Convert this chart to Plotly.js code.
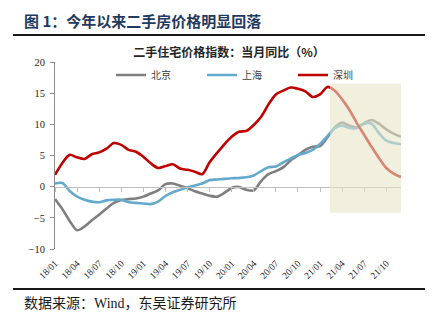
<!DOCTYPE html>
<html>
<head>
<meta charset="utf-8">
<script src="https://cdn.plot.ly/plotly-3.0.1.min.js"></script>
<style>html,body{margin:0;padding:0;background:#fff;}#chart{width:440px;height:322px;}</style>
</head>
<body>
<div id="chart"></div>
<script>
var months = ['18/01','18/02','18/03','18/04','18/05','18/06','18/07','18/08','18/09','18/10','18/11','18/12',
              '19/01','19/02','19/03','19/04','19/05','19/06','19/07','19/08','19/09','19/10','19/11','19/12',
              '20/01','20/02','20/03','20/04','20/05','20/06','20/07','20/08','20/09','20/10','20/11','20/12',
              '21/01','21/02','21/03','21/04','21/05','21/06','21/07','21/08','21/09','21/10','21/11','21/12'];
var tickLabels = ['18/01','18/04','18/07','18/10','19/01','19/04','19/07','19/10','20/01','20/04','20/07','20/10','21/01','21/04','21/07','21/10'];
var beijing = [-2.0,-3.6,-5.5,-7.0,-6.4,-5.4,-4.5,-3.5,-2.6,-2.15,-2.0,-1.9,
               -1.6,-1.1,-0.6,0.4,0.5,0.15,-0.25,-0.75,-1.1,-1.45,-1.6,-1.0,
               -0.2,-0.05,-0.5,-0.6,0.9,2.0,2.5,3.1,4.2,5.0,5.9,6.4,
               6.5,7.9,9.5,10.3,9.8,9.5,10.2,10.7,10.1,9.2,8.5,8.0];
var shanghai = [0.5,0.6,-0.7,-1.6,-2.1,-2.4,-2.5,-2.2,-2.1,-2.1,-2.5,-2.6,
                -2.7,-2.8,-2.4,-1.5,-0.9,-0.5,-0.1,0.2,0.5,1.05,1.15,1.25,
                1.35,1.4,1.5,1.8,2.5,3.1,3.25,3.9,4.5,5.1,5.4,5.9,
                6.85,8.1,9.4,9.8,9.4,9.4,10.1,10.1,8.6,7.4,7.0,6.8];
var shenzhen = [1.9,3.8,5.1,4.7,4.45,5.2,5.5,6.1,7.0,6.7,5.9,5.6,
                4.8,3.75,3.0,3.3,3.6,2.9,2.7,2.4,2.0,3.9,5.4,6.8,
                8.0,8.8,8.95,9.9,11.2,13.2,14.8,15.4,15.9,15.7,15.3,14.4,
                14.8,16.0,15.4,14.0,12.3,10.2,8.3,6.4,4.6,3.0,2.1,1.55];
var seriesNames = ['北京','上海','深圳'];
var seriesColors = ['#7F7F7F','#62A9CB','#C00000'];
var seriesData = [beijing, shanghai, shenzhen];
var shadeStart = 37.35, shadeEnd = 47, shadeLow = -4.2, shadeHigh = 16.5;

var serif = 'Liberation Serif, Times New Roman, Noto Sans CJK SC, serif';
var cjk = 'Noto Sans CJK SC, sans-serif';

var traces = seriesData.map(function(d, i){
  return {x: months, y: d, type: 'scatter', mode: 'lines', name: seriesNames[i],
          line: {color: seriesColors[i], width: 2.6, shape: 'spline', smoothing: 0.8},
          hoverinfo: 'skip'};
});
// zero-line axis carrier
traces.push({x: [0, 47], y: [0, 0], xaxis: 'x2', yaxis: 'y', mode: 'lines',
             line: {color: 'rgba(0,0,0,0)', width: 0}, showlegend: false, hoverinfo: 'skip'});

var tickIdx = tickLabels.map(function(t){ return months.indexOf(t); });

var layout = {
  width: 440, height: 322,
  margin: {l: 55, r: 39, t: 62, b: 73},
  paper_bgcolor: '#fff', plot_bgcolor: '#fff',
  showlegend: true,
  title: {text: '<b>二手住宅价格指数：当月同比（%）</b>', font: {family: cjk, size: 12, color: '#262626'},
          xref: 'paper', x: 0.503, xanchor: 'center', yref: 'container', y: 1 - 53/322, yanchor: 'middle'},
  legend: {orientation: 'h', xref: 'paper', yref: 'paper', x: (111 - 55)/346, y: (249 - 75)/187,
           xanchor: 'left', yanchor: 'middle', font: {family: cjk, size: 10, color: '#404040'},
           entrywidth: 46, entrywidthmode: 'pixels', bgcolor: 'rgba(0,0,0,0)', tracegroupgap: 0,
           itemwidth: 30},
  xaxis: {type: 'category', range: [0, 47], tickmode: 'array', tickvals: tickLabels, ticktext: tickLabels,
          tickangle: -45, showline: false, ticks: '', showgrid: false, zeroline: false,
          tickfont: {family: serif, size: 9.5, color: '#262626'}, ticklabelstandoff: 6, fixedrange: true},
  xaxis2: {overlaying: 'x', anchor: 'free', position: 1/3, range: [0, 47], type: 'linear',
           tickmode: 'array', tickvals: tickIdx, showticklabels: false, ticks: 'outside', ticklen: 4,
           tickcolor: '#BFBFBF', tickwidth: 1, showline: true, linecolor: '#BFBFBF', linewidth: 1.3,
           showgrid: false, zeroline: false, side: 'bottom'},
  yaxis: {range: [-10, 20], dtick: 5, tick0: 0, showgrid: false, zeroline: false, showline: true,
          linecolor: '#8C8C8C', linewidth: 1, ticks: 'outside', ticklen: 4, tickcolor: '#8C8C8C',
          tickfont: {family: serif, size: 10.5, color: '#262626'}, ticklabelstandoff: 3},
  shapes: [
    {type: 'rect', xref: 'x2', yref: 'y', x0: shadeStart, x1: shadeEnd, y0: shadeLow, y1: shadeHigh,
     fillcolor: 'rgba(231,229,200,0.58)', line: {width: 0}, layer: 'above'},
    {type: 'line', xref: 'paper', yref: 'paper', x0: (13-55)/346, x1: (425-55)/346,
     y0: (249-35)/187, y1: (249-35)/187, line: {color: '#1A1A1A', width: 2}},
    {type: 'line', xref: 'paper', yref: 'paper', x0: (13-55)/346, x1: (425-55)/346,
     y0: (249-289)/187, y1: (249-289)/187, line: {color: '#1A1A1A', width: 2}}
  ],
  annotations: [
    {text: '<b>图 1：今年以来二手房价格明显回落</b>', xref: 'paper', yref: 'paper',
     x: (22-55)/346, y: (249-20)/187, xanchor: 'left', yanchor: 'middle', showarrow: false,
     font: {family: cjk, size: 15, color: '#1F3A60'}},
    {text: '数据来源：Wind，东吴证券研究所', xref: 'paper', yref: 'paper',
     x: (22-55)/346, y: (249-303)/187, xanchor: 'left', yanchor: 'middle', showarrow: false,
     font: {family: serif, size: 14, color: '#1A1A1A'}}
  ]
};

Plotly.newPlot('chart', traces, layout, {staticPlot: true, displayModeBar: false});
</script>
</body>
</html>
